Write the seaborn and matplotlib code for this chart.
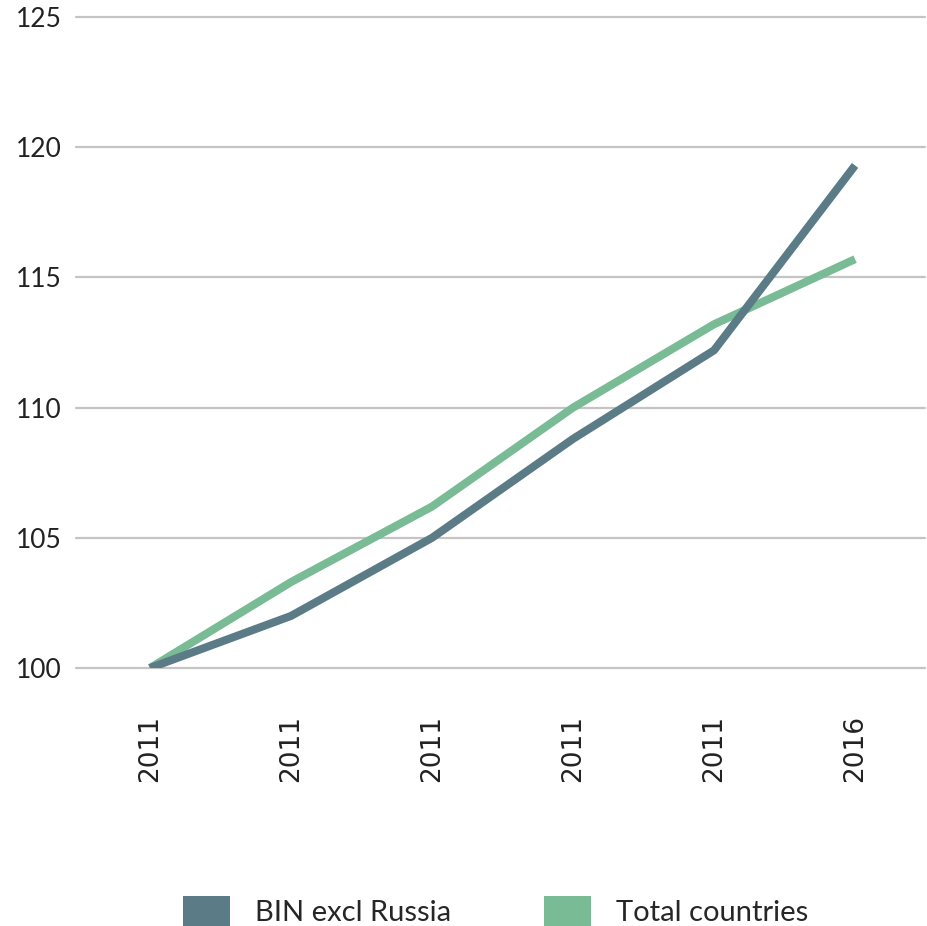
import matplotlib
matplotlib.use('Agg')
import matplotlib.pyplot as plt
from matplotlib.patches import Patch
import seaborn as sns
import pandas as pd

# values (index, 2011 = 100)
positions = [0, 1, 2, 3, 4, 5]
year_labels = ['2011', '2011', '2011', '2011', '2011', '2016']
bin_excl_russia = [100.0, 102.0, 105.0, 108.8, 112.2, 119.3]
total_countries = [100.0, 103.3, 106.2, 110.0, 113.2, 115.7]

series_names = ['BIN excl Russia', 'Total countries']
colors = {'BIN excl Russia': '#5b7c86', 'Total countries': '#79bb95'}

df = pd.DataFrame({
    'pos': positions * 2,
    'value': bin_excl_russia + total_countries,
    'series': [series_names[0]] * 6 + [series_names[1]] * 6,
})

sns.set_style('white')
plt.rcParams['font.family'] = ['DejaVu Sans']

fig = plt.figure(figsize=(9.27, 9.26), dpi=100)
ax = fig.add_axes([76 / 927, 1 - 668 / 926, 849 / 927, 651 / 926])

# green underneath, blue on top
sns.lineplot(data=df, x='pos', y='value', hue='series',
             hue_order=['Total countries', 'BIN excl Russia'],
             palette=colors, linewidth=5.8, legend=False, ax=ax,
             solid_capstyle='butt')

ax.set_xlim(-0.525, 5.496)
ax.set_ylim(100, 125)
ax.set_yticks([100, 105, 110, 115, 120, 125])
ax.set_xticks(positions)
ax.set_xticklabels(year_labels, rotation=90, fontsize=19, color='#222222')
ax.set_yticklabels(['100', '105', '110', '115', '120', '125'],
                   fontsize=19, color='#222222', family=['Lato', 'DejaVu Sans'])
ax.tick_params(axis='both', length=0)
ax.tick_params(axis='y', pad=10)
ax.tick_params(axis='x', pad=34)
ax.set_xlabel('')
ax.set_ylabel('')

ax.grid(axis='y', color='#c4c4c4', linewidth=1.6)
ax.grid(axis='x', visible=False)
ax.set_axisbelow(True)
for line in ax.get_ygridlines():
    line.set_clip_on(False)
sns.despine(ax=ax, left=True, bottom=True)

handles = [Patch(facecolor=colors[n], edgecolor='none') for n in series_names]
fig.legend(handles, series_names, loc='lower left',
           bbox_to_anchor=(168 / 927, -0.016), ncol=2, frameon=False,
           borderpad=0, handlelength=1.61, handleheight=1.2, handletextpad=0.86,
           columnspacing=3.2,
           prop={'family': ['Lato', 'DejaVu Sans'], 'size': 21})

fig.savefig('out.png', dpi=100)
